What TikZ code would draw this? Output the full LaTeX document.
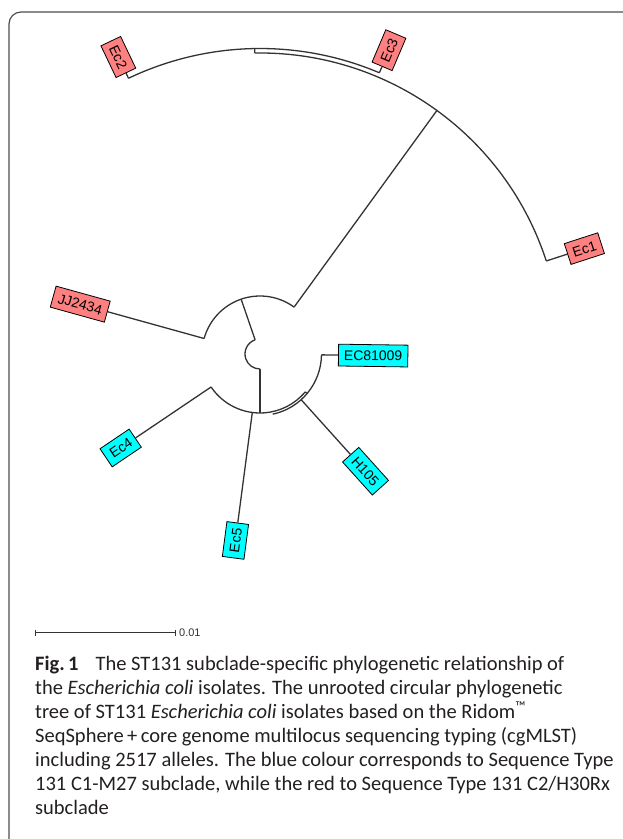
\documentclass[tikz,border=0pt]{standalone}
\usepackage{fontspec}
\setmainfont{Liberation Sans}
\newfontfamily\capfont{Carlito}
\usetikzlibrary{calc}
\definecolor{treegray}{HTML}{333333}
\definecolor{labred}{HTML}{FF8080}
\definecolor{labcyan}{HTML}{00FFFF}
\definecolor{framegray}{HTML}{4D4D4D}
\definecolor{captext}{HTML}{231F20}
\tikzset{
  tree/.style={draw=treegray, line width=1.3pt},
  lab/.style={draw=black, line width=0.8pt, font=\fontsize{14}{14}\selectfont,
    inner xsep=5.5pt, inner ysep=5.8pt, text height=10.2pt, text depth=0pt, outer sep=0.5pt},
  redlab/.style={lab, fill=labred},
  cyanlab/.style={lab, fill=labcyan},
  capline/.style={anchor=base west, inner sep=0pt, text=captext,
    font=\capfont\fontsize{20.5}{24}\selectfont}
}
\begin{document}
\begin{tikzpicture}[x=1pt,y=1pt]
\useasboundingbox (0,0) rectangle (622,839);
% frame
\draw[framegray, line width=1.2pt, rounded corners=12pt] (9,0) -- (9,827) -- (623,827);

\coordinate (C) at (260,485);
% root arc and branches
\coordinate (Rb) at ($(C)+(109:15)$);
\coordinate (Rl) at ($(C)+(270:15)$);
\draw[tree] (Rb) arc[start angle=109,end angle=270,radius=15];
\coordinate (U) at ($(C)+(109:58)$);
\draw[tree] (Rb) -- (U);
\coordinate (L) at ($(C)+(270:59)$);
\draw[tree] (Rl) -- (L);

% upper clade
\coordinate (Ain) at ($(C)+(54:58)$);
\draw[tree] (Ain) arc[start angle=54,end angle=164.5,radius=58];
\coordinate (A) at ($(C)+(54:301)$);
\draw[tree] (Ain) -- (A);
\coordinate (Aa) at ($(C)+(18:301)$);
\draw[tree] (Aa) arc[start angle=18,end angle=91,radius=301];
\coordinate (Bin) at ($(C)+(91:301)$);
\coordinate (B) at ($(C)+(91:305.5)$);
\draw[tree] (Bin) -- (B);
\coordinate (Ba) at ($(C)+(67:305.5)$);
\draw[tree] (Ba) arc[start angle=67,end angle=115.5,radius=305.5];

% lower clade
\coordinate (La) at ($(C)+(214:59)$);
\draw[tree] (La) arc[start angle=214,end angle=320,radius=59];
\coordinate (Nin) at ($(C)+(320:59)$);
\coordinate (N) at ($(C)+(320:61.5)$);
\draw[tree] (Nin) -- (N);
\coordinate (Na) at ($(C)+(282:61.5)$);
\draw[tree] (Na) arc[start angle=282,end angle=359.2,radius=61.5];

% leaves: inner and tip points
\coordinate (iEc1) at ($(C)+(18:301)$);      \coordinate (tEc1) at ($(C)+(18:323)$);
\coordinate (iEc3) at ($(C)+(67:305.5)$);    \coordinate (tEc3) at ($(C)+(67:312)$);
\coordinate (iEc2) at ($(C)+(115.5:305.5)$); \coordinate (tEc2) at ($(C)+(115.5:311)$);
\coordinate (iJJ) at ($(C)+(164.5:58)$);     \coordinate (tJJ) at ($(C)+(164.5:158)$);
\coordinate (iEc4) at ($(C)+(214:59)$);      \coordinate (tEc4) at ($(C)+(214:150)$);
\coordinate (iEc5) at ($(C)+(262.5:59)$);    \coordinate (tEc5) at ($(C)+(262.5:170)$);
\coordinate (iH) at ($(C)+(312:61.5)$);      \coordinate (tH) at ($(C)+(312:135)$);
\coordinate (iEC) at ($(C)+(359.2:61.5)$);   \coordinate (tEC) at ($(C)+(359.2:78)$);

\draw[tree] (iEc1) -- (tEc1);
\draw[tree] (iEc3) -- (tEc3);
\draw[tree] (iEc2) -- (tEc2);
\draw[tree] (iJJ) -- (tJJ);
\draw[tree] (iEc4) -- (tEc4);
\draw[tree] (iEc5) -- (tEc5);
\draw[tree] (iH) -- (tH);
\draw[tree] (iEC) -- (tEC);

% labels
\node[redlab, rotate=18, anchor=west] (nEc1) at (tEc1) {Ec1};
\node[redlab, rotate=67, anchor=west] (nEc3) at (tEc3) {Ec3};
\node[redlab, rotate=-64.5, anchor=east] (nEc2) at (tEc2) {Ec2};
\node[redlab, rotate=-15.5, anchor=east] (nJJ) at (tJJ) {JJ2434};
\node[cyanlab, rotate=34, anchor=east] (nEc4) at (tEc4) {Ec4};
\node[cyanlab, rotate=82.5, anchor=east] (nEc5) at (tEc5) {Ec5};
\node[cyanlab, rotate=-48, anchor=west] (nH) at (tH) {H105};
\node[cyanlab, rotate=-0.8, anchor=west] (nEC) at (tEC) {EC81009};

% scale bar
\coordinate (s1) at (35,206);
\coordinate (s2) at (175,206);
\draw[treegray, line width=1pt] (s1) -- (s2);
\draw[treegray, line width=1pt] ($(s1)+(0,-3)$) -- ($(s1)+(0,3)$);
\draw[treegray, line width=1pt] ($(s2)+(0,-3)$) -- ($(s2)+(0,3)$);
\node[anchor=west, inner sep=0pt, font=\fontsize{11}{11}\selectfont, text=treegray] (sl) at ($(s2)+(4,0)$) {0.01};

% caption
\node[capline] (c1) at (35,168) {\textbf{Fig.\,1}\hspace{0.6em} The ST131 subclade-specific phylogenetic relationship of};
\node[capline] (c2) at (35,144) {the \textit{Escherichia coli} isolates. The unrooted circular phylogenetic};
\node[capline] (c3) at (35,120) {tree of ST131 \textit{Escherichia coli} isolates based on the Ridom\textsuperscript{™}};
\node[capline] (c4) at (35,96) {SeqSphere\,+\,core genome multilocus sequencing typing (cgMLST)};
\node[capline] (c5) at (35,72) {including 2517 alleles. The blue colour corresponds to Sequence Type};
\node[capline] (c6) at (35,48) {131 C1-M27 subclade, while the red to Sequence Type 131 C2/H30Rx};
\node[capline] (c7) at (35,24) {subclade};
\end{tikzpicture}
\end{document}
